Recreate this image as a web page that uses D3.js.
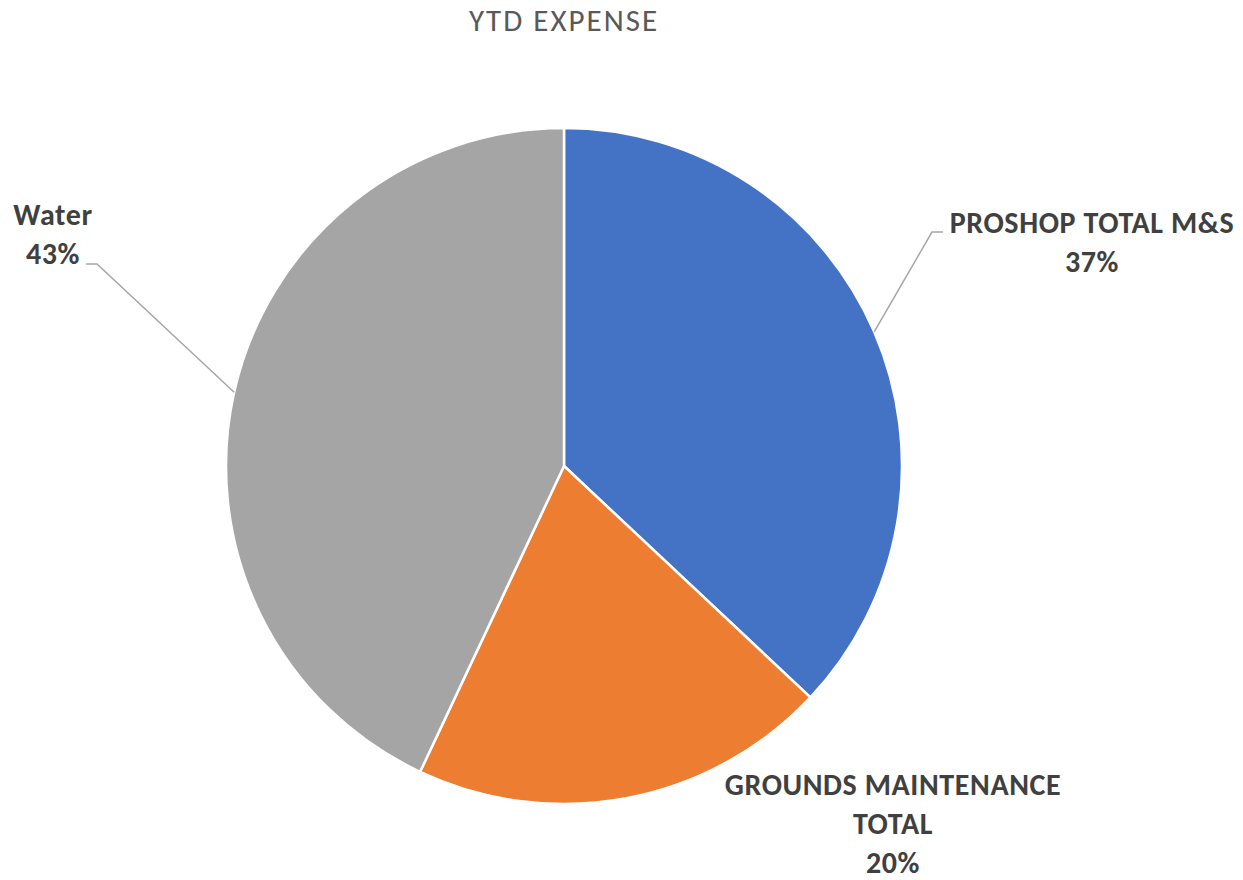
<!DOCTYPE html>
<html>
<head>
<meta charset="utf-8">
<script src="https://cdn.jsdelivr.net/npm/d3@7"></script>
<style>
  html, body { margin: 0; padding: 0; background: #fff; }
  svg { display: block; }
</style>
</head>
<body>
<svg id="chart" width="1243" height="880"></svg>
<script>
// YTD expense breakdown
const categories = ["PROSHOP TOTAL M&S", "GROUNDS MAINTENANCE TOTAL", "Water"];
const values = [37, 20, 43];
const colors = ["#4472C4", "#ED7D31", "#A5A5A5"];
// label lines (wrapped the way they are printed)
const labelLines = [["PROSHOP TOTAL M&S"], ["GROUNDS MAINTENANCE", "TOTAL"], ["Water"]];

const W = 1243, H = 880;
const cx = 564, cy = 466, R = 338;
const fontStack = "Carlito, Calibri, Lato, 'Open Sans', sans-serif";

const svg = d3.select("#chart");

svg.append("text")
  .attr("x", 564).attr("y", 31)
  .attr("text-anchor", "middle")
  .attr("fill", "#595959")
  .style("font-family", fontStack)
  .style("font-size", "31px")
  .style("letter-spacing", "2px")
  .text("YTD EXPENSE");

const data = categories.map((c, i) => ({ name: c, value: values[i], color: colors[i], lines: labelLines[i] }));

const pie = d3.pie().value(d => d.value).sort(null);
const arcs = pie(data);
const arc = d3.arc().innerRadius(0).outerRadius(R);

const g = svg.append("g").attr("transform", `translate(${cx},${cy})`);

g.selectAll("path.slice")
  .data(arcs)
  .join("path")
  .attr("class", "slice")
  .attr("d", arc)
  .attr("fill", d => d.data.color)
  .attr("stroke", "#ffffff")
  .attr("stroke-width", 2.5)
  .attr("stroke-linejoin", "round");

const total = d3.sum(values);
const pct = d3.format(".0%");

// label placement: centre x, first baseline, and leader elbow (page coordinates)
const labelLayout = [
  { x: 1092, y: 233, elbow: [932, 232], end: [943, 232] },
  { x: 893, y: 795, elbow: null, end: null },
  { x: 53, y: 225, elbow: [97, 264], end: [86, 264] }
];

const lineH = 39;

arcs.forEach((a, i) => {
  const L = labelLayout[i];
  const mid = (a.startAngle + a.endAngle) / 2;
  const edge = [cx + R * Math.sin(mid), cy - R * Math.cos(mid)];
  if (L.elbow) {
    svg.append("polyline")
      .attr("points", [edge, L.elbow, L.end].map(p => p.join(",")).join(" "))
      .attr("fill", "none")
      .attr("stroke", "#A6A6A6")
      .attr("stroke-width", 1.5);
  }
  const lines = a.data.lines.concat([pct(a.data.value / total)]);
  const t = svg.append("text")
    .attr("text-anchor", "middle")
    .attr("fill", "#404040")
    .style("font-family", fontStack)
    .style("font-weight", "bold")
    .style("font-size", "30px")
    .style("letter-spacing", "0.6px");
  lines.forEach((ln, k) => {
    t.append("tspan")
      .attr("x", L.x)
      .attr("y", L.y + k * lineH)
      .text(ln);
  });
});
</script>
</body>
</html>
